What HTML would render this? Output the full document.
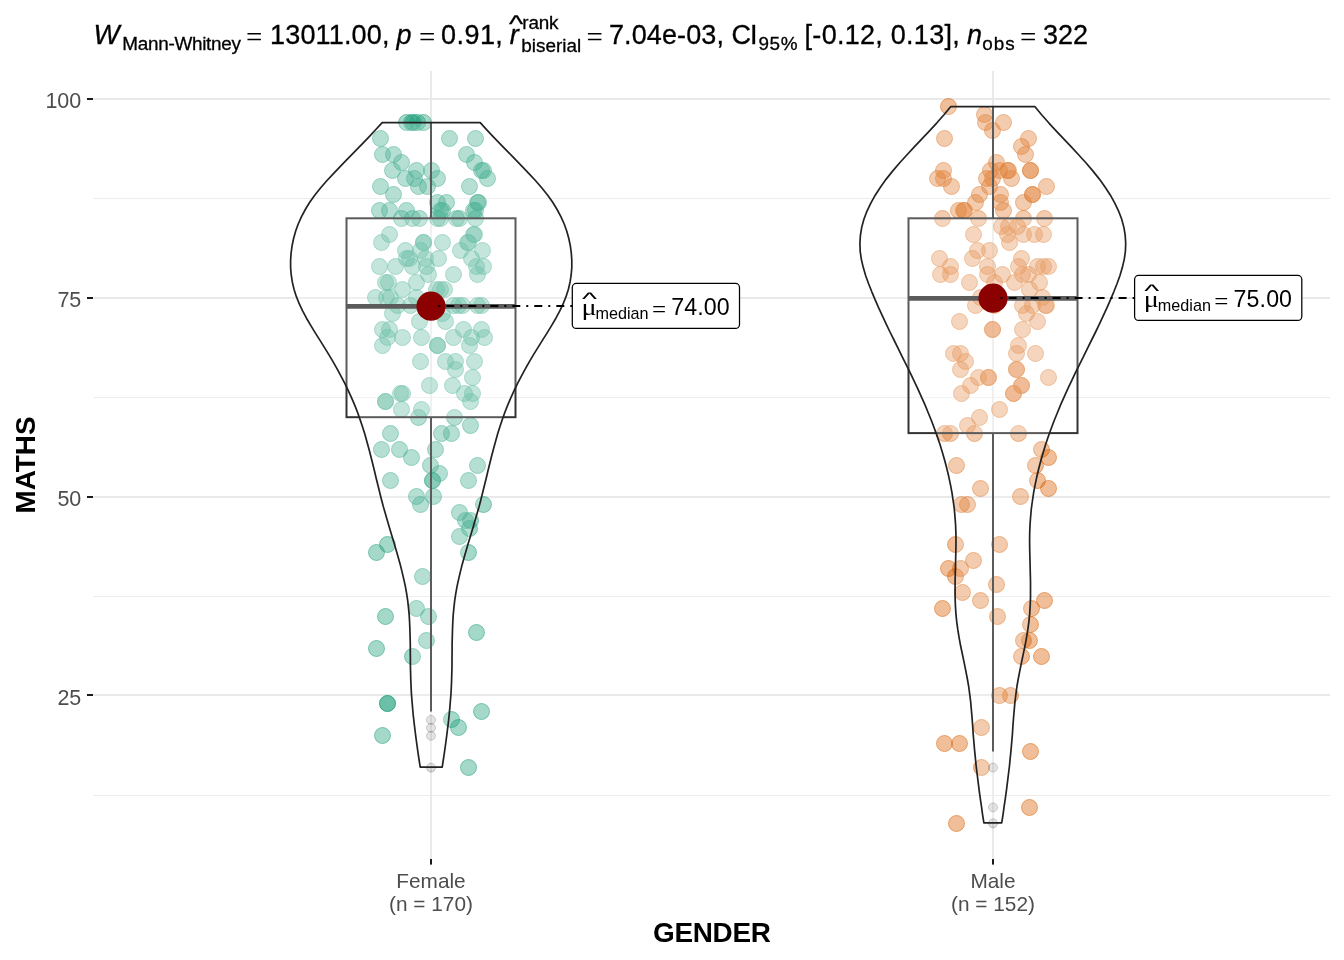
<!DOCTYPE html>
<html lang="en"><head><meta charset="utf-8"><title>MATHS by GENDER</title>
<style>html,body{margin:0;padding:0;background:#fff}body{width:1344px;height:960px;overflow:hidden}svg{display:block}text{font-family:"Liberation Sans",sans-serif}.ser{font-family:"Liberation Serif",serif}</style></head><body>
<svg width="1344" height="960" viewBox="0 0 1344 960">
<rect width="1344" height="960" fill="#fff"/>
<g fill="#e9e9e9">
<rect x="93.5" y="198" width="1236.5" height="1" fill="#ececec"/>
<rect x="93.5" y="397" width="1236.5" height="1" fill="#ececec"/>
<rect x="93.5" y="596" width="1236.5" height="1" fill="#ececec"/>
<rect x="93.5" y="795" width="1236.5" height="1" fill="#ececec"/>
<rect x="93.5" y="98" width="1236.5" height="2"/>
<rect x="93.5" y="297" width="1236.5" height="2"/>
<rect x="93.5" y="496" width="1236.5" height="2"/>
<rect x="93.5" y="694" width="1236.5" height="2"/>
<rect x="430.0" y="71" width="2" height="788"/>
<rect x="992.0" y="71" width="2" height="788"/>
</g>
<g fill="#1b9e77" fill-opacity="0.4" stroke="#1b9e77" stroke-opacity="0.5" stroke-width="1">
<circle cx="406.5" cy="122.5" r="8"/>
<circle cx="411.5" cy="122.5" r="8"/>
<circle cx="413.5" cy="122.5" r="8"/>
<circle cx="417.5" cy="122.5" r="8"/>
<circle cx="423.5" cy="122.5" r="8"/>
<circle cx="380.5" cy="138.5" r="8"/>
<circle cx="449.5" cy="138.5" r="8"/>
<circle cx="475.5" cy="138.5" r="8"/>
<circle cx="382.5" cy="154.5" r="8"/>
<circle cx="393.5" cy="154.5" r="8"/>
<circle cx="466.5" cy="154.5" r="8"/>
<circle cx="401.5" cy="162.5" r="8"/>
<circle cx="474.5" cy="162.5" r="8"/>
<circle cx="392.5" cy="170.5" r="8"/>
<circle cx="416.5" cy="170.5" r="8"/>
<circle cx="431.5" cy="170.5" r="8"/>
<circle cx="481.5" cy="170.5" r="8"/>
<circle cx="483.5" cy="170.5" r="8"/>
<circle cx="405.5" cy="178.5" r="8"/>
<circle cx="414.5" cy="178.5" r="8"/>
<circle cx="437.5" cy="178.5" r="8"/>
<circle cx="487.5" cy="178.5" r="8"/>
<circle cx="380.5" cy="186.5" r="8"/>
<circle cx="418.5" cy="186.5" r="8"/>
<circle cx="427.5" cy="186.5" r="8"/>
<circle cx="469.5" cy="186.5" r="8"/>
<circle cx="393.5" cy="194.5" r="8"/>
<circle cx="437.5" cy="202.5" r="8"/>
<circle cx="446.5" cy="202.5" r="8"/>
<circle cx="477.5" cy="202.5" r="8"/>
<circle cx="478.5" cy="202.5" r="8"/>
<circle cx="379.5" cy="210.5" r="8"/>
<circle cx="389.5" cy="210.5" r="8"/>
<circle cx="406.5" cy="210.5" r="8"/>
<circle cx="440.5" cy="210.5" r="8"/>
<circle cx="442.5" cy="210.5" r="8"/>
<circle cx="473.5" cy="210.5" r="8"/>
<circle cx="475.5" cy="210.5" r="8"/>
<circle cx="401.5" cy="218.5" r="8"/>
<circle cx="412.5" cy="218.5" r="8"/>
<circle cx="419.5" cy="218.5" r="8"/>
<circle cx="437.5" cy="218.5" r="8"/>
<circle cx="440.5" cy="218.5" r="8"/>
<circle cx="456.5" cy="218.5" r="8"/>
<circle cx="459.5" cy="218.5" r="8"/>
<circle cx="475.5" cy="218.5" r="8"/>
<circle cx="389.5" cy="234.5" r="8"/>
<circle cx="473.5" cy="234.5" r="8"/>
<circle cx="474.5" cy="234.5" r="8"/>
<circle cx="381.5" cy="242.5" r="8"/>
<circle cx="423.5" cy="242.5" r="8"/>
<circle cx="423.5" cy="242.5" r="8"/>
<circle cx="442.5" cy="242.5" r="8"/>
<circle cx="467.5" cy="242.5" r="8"/>
<circle cx="468.5" cy="242.5" r="8"/>
<circle cx="405.5" cy="250.5" r="8"/>
<circle cx="420.5" cy="250.5" r="8"/>
<circle cx="460.5" cy="250.5" r="8"/>
<circle cx="482.5" cy="250.5" r="8"/>
<circle cx="406.5" cy="258.5" r="8"/>
<circle cx="409.5" cy="258.5" r="8"/>
<circle cx="425.5" cy="258.5" r="8"/>
<circle cx="438.5" cy="258.5" r="8"/>
<circle cx="471.5" cy="258.5" r="8"/>
<circle cx="379.5" cy="266.5" r="8"/>
<circle cx="395.5" cy="266.5" r="8"/>
<circle cx="412.5" cy="266.5" r="8"/>
<circle cx="426.5" cy="266.5" r="8"/>
<circle cx="476.5" cy="266.5" r="8"/>
<circle cx="483.5" cy="266.5" r="8"/>
<circle cx="428.5" cy="274.5" r="8"/>
<circle cx="453.5" cy="274.5" r="8"/>
<circle cx="477.5" cy="274.5" r="8"/>
<circle cx="385.5" cy="282.5" r="8"/>
<circle cx="388.5" cy="282.5" r="8"/>
<circle cx="416.5" cy="282.5" r="8"/>
<circle cx="402.5" cy="289.5" r="8"/>
<circle cx="436.5" cy="289.5" r="8"/>
<circle cx="440.5" cy="289.5" r="8"/>
<circle cx="444.5" cy="289.5" r="8"/>
<circle cx="375.5" cy="297.5" r="8"/>
<circle cx="386.5" cy="297.5" r="8"/>
<circle cx="390.5" cy="297.5" r="8"/>
<circle cx="416.5" cy="297.5" r="8"/>
<circle cx="397.5" cy="305.5" r="8"/>
<circle cx="410.5" cy="305.5" r="8"/>
<circle cx="453.5" cy="305.5" r="8"/>
<circle cx="458.5" cy="305.5" r="8"/>
<circle cx="462.5" cy="305.5" r="8"/>
<circle cx="477.5" cy="305.5" r="8"/>
<circle cx="481.5" cy="305.5" r="8"/>
<circle cx="392.5" cy="313.5" r="8"/>
<circle cx="442.5" cy="313.5" r="8"/>
<circle cx="419.5" cy="321.5" r="8"/>
<circle cx="445.5" cy="321.5" r="8"/>
<circle cx="382.5" cy="329.5" r="8"/>
<circle cx="389.5" cy="329.5" r="8"/>
<circle cx="463.5" cy="329.5" r="8"/>
<circle cx="481.5" cy="329.5" r="8"/>
<circle cx="387.5" cy="337.5" r="8"/>
<circle cx="402.5" cy="337.5" r="8"/>
<circle cx="421.5" cy="337.5" r="8"/>
<circle cx="453.5" cy="337.5" r="8"/>
<circle cx="471.5" cy="337.5" r="8"/>
<circle cx="484.5" cy="337.5" r="8"/>
<circle cx="382.5" cy="345.5" r="8"/>
<circle cx="437.5" cy="345.5" r="8"/>
<circle cx="437.5" cy="345.5" r="8"/>
<circle cx="469.5" cy="345.5" r="8"/>
<circle cx="420.5" cy="361.5" r="8"/>
<circle cx="445.5" cy="361.5" r="8"/>
<circle cx="455.5" cy="361.5" r="8"/>
<circle cx="474.5" cy="361.5" r="8"/>
<circle cx="455.5" cy="369.5" r="8"/>
<circle cx="472.5" cy="377.5" r="8"/>
<circle cx="429.5" cy="385.5" r="8"/>
<circle cx="452.5" cy="385.5" r="8"/>
<circle cx="400.5" cy="393.5" r="8"/>
<circle cx="402.5" cy="393.5" r="8"/>
<circle cx="464.5" cy="393.5" r="8"/>
<circle cx="472.5" cy="393.5" r="8"/>
<circle cx="385.5" cy="401.5" r="8"/>
<circle cx="385.5" cy="401.5" r="8"/>
<circle cx="470.5" cy="401.5" r="8"/>
<circle cx="401.5" cy="409.5" r="8"/>
<circle cx="421.5" cy="409.5" r="8"/>
<circle cx="418.5" cy="417.5" r="8"/>
<circle cx="454.5" cy="417.5" r="8"/>
<circle cx="470.5" cy="425.5" r="8"/>
<circle cx="390.5" cy="433.5" r="8"/>
<circle cx="441.5" cy="433.5" r="8"/>
<circle cx="451.5" cy="433.5" r="8"/>
<circle cx="381.5" cy="449.5" r="8"/>
<circle cx="399.5" cy="449.5" r="8"/>
<circle cx="435.5" cy="449.5" r="8"/>
<circle cx="411.5" cy="457.5" r="8"/>
<circle cx="430.5" cy="465.5" r="8"/>
<circle cx="477.5" cy="465.5" r="8"/>
<circle cx="439.5" cy="473.5" r="8"/>
<circle cx="390.5" cy="480.5" r="8"/>
<circle cx="432.5" cy="480.5" r="8"/>
<circle cx="432.5" cy="480.5" r="8"/>
<circle cx="468.5" cy="480.5" r="8"/>
<circle cx="416.5" cy="496.5" r="8"/>
<circle cx="433.5" cy="496.5" r="8"/>
<circle cx="420.5" cy="504.5" r="8"/>
<circle cx="483.5" cy="504.5" r="8"/>
<circle cx="459.5" cy="512.5" r="8"/>
<circle cx="465.5" cy="520.5" r="8"/>
<circle cx="470.5" cy="520.5" r="8"/>
<circle cx="469.5" cy="528.5" r="8"/>
<circle cx="459.5" cy="536.5" r="8"/>
<circle cx="387.5" cy="544.5" r="8"/>
<circle cx="376.5" cy="552.5" r="8"/>
<circle cx="468.5" cy="552.5" r="8"/>
<circle cx="422.5" cy="576.5" r="8"/>
<circle cx="416.5" cy="608.5" r="8"/>
<circle cx="385.5" cy="616.5" r="8"/>
<circle cx="428.5" cy="616.5" r="8"/>
<circle cx="476.5" cy="632.5" r="8"/>
<circle cx="426.5" cy="640.5" r="8"/>
<circle cx="376.5" cy="648.5" r="8"/>
<circle cx="412.5" cy="656.5" r="8"/>
<circle cx="387.5" cy="703.5" r="8"/>
<circle cx="387.5" cy="703.5" r="8"/>
<circle cx="481.5" cy="711.5" r="8"/>
<circle cx="451.5" cy="719.5" r="8"/>
<circle cx="458.5" cy="727.5" r="8"/>
<circle cx="382.5" cy="735.5" r="8"/>
<circle cx="468.5" cy="767.5" r="8"/>
</g>
<g fill="#d95f02" fill-opacity="0.4" stroke="#d95f02" stroke-opacity="0.5" stroke-width="1">
<circle cx="948.5" cy="106.5" r="8"/>
<circle cx="984.5" cy="114.5" r="8"/>
<circle cx="985.5" cy="122.5" r="8"/>
<circle cx="1003.5" cy="122.5" r="8"/>
<circle cx="992.5" cy="130.5" r="8"/>
<circle cx="944.5" cy="138.5" r="8"/>
<circle cx="1028.5" cy="138.5" r="8"/>
<circle cx="1021.5" cy="146.5" r="8"/>
<circle cx="1025.5" cy="154.5" r="8"/>
<circle cx="996.5" cy="162.5" r="8"/>
<circle cx="943.5" cy="170.5" r="8"/>
<circle cx="990.5" cy="170.5" r="8"/>
<circle cx="999.5" cy="170.5" r="8"/>
<circle cx="1007.5" cy="170.5" r="8"/>
<circle cx="1008.5" cy="170.5" r="8"/>
<circle cx="1030.5" cy="170.5" r="8"/>
<circle cx="1030.5" cy="170.5" r="8"/>
<circle cx="937.5" cy="178.5" r="8"/>
<circle cx="943.5" cy="178.5" r="8"/>
<circle cx="986.5" cy="178.5" r="8"/>
<circle cx="992.5" cy="178.5" r="8"/>
<circle cx="1011.5" cy="178.5" r="8"/>
<circle cx="951.5" cy="186.5" r="8"/>
<circle cx="989.5" cy="186.5" r="8"/>
<circle cx="1046.5" cy="186.5" r="8"/>
<circle cx="979.5" cy="194.5" r="8"/>
<circle cx="1000.5" cy="194.5" r="8"/>
<circle cx="1032.5" cy="194.5" r="8"/>
<circle cx="1032.5" cy="194.5" r="8"/>
<circle cx="975.5" cy="202.5" r="8"/>
<circle cx="1000.5" cy="202.5" r="8"/>
<circle cx="1023.5" cy="202.5" r="8"/>
<circle cx="958.5" cy="210.5" r="8"/>
<circle cx="963.5" cy="210.5" r="8"/>
<circle cx="964.5" cy="210.5" r="8"/>
<circle cx="1003.5" cy="210.5" r="8"/>
<circle cx="942.5" cy="218.5" r="8"/>
<circle cx="978.5" cy="218.5" r="8"/>
<circle cx="1023.5" cy="218.5" r="8"/>
<circle cx="1044.5" cy="218.5" r="8"/>
<circle cx="1001.5" cy="226.5" r="8"/>
<circle cx="1008.5" cy="226.5" r="8"/>
<circle cx="1017.5" cy="226.5" r="8"/>
<circle cx="973.5" cy="234.5" r="8"/>
<circle cx="1007.5" cy="234.5" r="8"/>
<circle cx="1023.5" cy="234.5" r="8"/>
<circle cx="1034.5" cy="234.5" r="8"/>
<circle cx="1043.5" cy="234.5" r="8"/>
<circle cx="1009.5" cy="242.5" r="8"/>
<circle cx="977.5" cy="250.5" r="8"/>
<circle cx="989.5" cy="250.5" r="8"/>
<circle cx="939.5" cy="258.5" r="8"/>
<circle cx="972.5" cy="258.5" r="8"/>
<circle cx="1021.5" cy="258.5" r="8"/>
<circle cx="950.5" cy="266.5" r="8"/>
<circle cx="987.5" cy="266.5" r="8"/>
<circle cx="1018.5" cy="266.5" r="8"/>
<circle cx="1037.5" cy="266.5" r="8"/>
<circle cx="1043.5" cy="266.5" r="8"/>
<circle cx="1048.5" cy="266.5" r="8"/>
<circle cx="940.5" cy="274.5" r="8"/>
<circle cx="950.5" cy="274.5" r="8"/>
<circle cx="987.5" cy="274.5" r="8"/>
<circle cx="1002.5" cy="274.5" r="8"/>
<circle cx="1022.5" cy="274.5" r="8"/>
<circle cx="1028.5" cy="274.5" r="8"/>
<circle cx="969.5" cy="282.5" r="8"/>
<circle cx="994.5" cy="282.5" r="8"/>
<circle cx="1014.5" cy="282.5" r="8"/>
<circle cx="1039.5" cy="282.5" r="8"/>
<circle cx="1029.5" cy="289.5" r="8"/>
<circle cx="980.5" cy="297.5" r="8"/>
<circle cx="1042.5" cy="297.5" r="8"/>
<circle cx="975.5" cy="305.5" r="8"/>
<circle cx="994.5" cy="305.5" r="8"/>
<circle cx="1022.5" cy="305.5" r="8"/>
<circle cx="1032.5" cy="305.5" r="8"/>
<circle cx="1045.5" cy="305.5" r="8"/>
<circle cx="1046.5" cy="305.5" r="8"/>
<circle cx="1026.5" cy="313.5" r="8"/>
<circle cx="959.5" cy="321.5" r="8"/>
<circle cx="1037.5" cy="321.5" r="8"/>
<circle cx="992.5" cy="329.5" r="8"/>
<circle cx="992.5" cy="329.5" r="8"/>
<circle cx="1022.5" cy="329.5" r="8"/>
<circle cx="1018.5" cy="345.5" r="8"/>
<circle cx="953.5" cy="353.5" r="8"/>
<circle cx="960.5" cy="353.5" r="8"/>
<circle cx="1016.5" cy="353.5" r="8"/>
<circle cx="1035.5" cy="353.5" r="8"/>
<circle cx="965.5" cy="361.5" r="8"/>
<circle cx="960.5" cy="369.5" r="8"/>
<circle cx="1016.5" cy="369.5" r="8"/>
<circle cx="1016.5" cy="369.5" r="8"/>
<circle cx="978.5" cy="377.5" r="8"/>
<circle cx="988.5" cy="377.5" r="8"/>
<circle cx="988.5" cy="377.5" r="8"/>
<circle cx="1048.5" cy="377.5" r="8"/>
<circle cx="970.5" cy="385.5" r="8"/>
<circle cx="1021.5" cy="385.5" r="8"/>
<circle cx="1021.5" cy="385.5" r="8"/>
<circle cx="961.5" cy="393.5" r="8"/>
<circle cx="1013.5" cy="393.5" r="8"/>
<circle cx="1013.5" cy="393.5" r="8"/>
<circle cx="999.5" cy="409.5" r="8"/>
<circle cx="979.5" cy="417.5" r="8"/>
<circle cx="967.5" cy="425.5" r="8"/>
<circle cx="944.5" cy="433.5" r="8"/>
<circle cx="950.5" cy="433.5" r="8"/>
<circle cx="974.5" cy="433.5" r="8"/>
<circle cx="1018.5" cy="433.5" r="8"/>
<circle cx="1041.5" cy="449.5" r="8"/>
<circle cx="1048.5" cy="457.5" r="8"/>
<circle cx="956.5" cy="465.5" r="8"/>
<circle cx="1035.5" cy="465.5" r="8"/>
<circle cx="1037.5" cy="480.5" r="8"/>
<circle cx="980.5" cy="488.5" r="8"/>
<circle cx="1048.5" cy="488.5" r="8"/>
<circle cx="1020.5" cy="496.5" r="8"/>
<circle cx="961.5" cy="504.5" r="8"/>
<circle cx="967.5" cy="504.5" r="8"/>
<circle cx="955.5" cy="544.5" r="8"/>
<circle cx="999.5" cy="544.5" r="8"/>
<circle cx="973.5" cy="560.5" r="8"/>
<circle cx="948.5" cy="568.5" r="8"/>
<circle cx="960.5" cy="568.5" r="8"/>
<circle cx="955.5" cy="576.5" r="8"/>
<circle cx="996.5" cy="584.5" r="8"/>
<circle cx="962.5" cy="592.5" r="8"/>
<circle cx="980.5" cy="600.5" r="8"/>
<circle cx="1044.5" cy="600.5" r="8"/>
<circle cx="942.5" cy="608.5" r="8"/>
<circle cx="1031.5" cy="608.5" r="8"/>
<circle cx="997.5" cy="616.5" r="8"/>
<circle cx="1030.5" cy="624.5" r="8"/>
<circle cx="1023.5" cy="640.5" r="8"/>
<circle cx="1029.5" cy="640.5" r="8"/>
<circle cx="1021.5" cy="656.5" r="8"/>
<circle cx="1041.5" cy="656.5" r="8"/>
<circle cx="999.5" cy="695.5" r="8"/>
<circle cx="1010.5" cy="695.5" r="8"/>
<circle cx="981.5" cy="727.5" r="8"/>
<circle cx="944.5" cy="743.5" r="8"/>
<circle cx="959.5" cy="743.5" r="8"/>
<circle cx="1030.5" cy="751.5" r="8"/>
<circle cx="981.5" cy="767.5" r="8"/>
<circle cx="1029.5" cy="807.5" r="8"/>
<circle cx="956.5" cy="823.5" r="8"/>
</g>
<g stroke="#333" stroke-width="2" fill="none">
<line x1="431.0" x2="431.0" y1="122.9" y2="218.3"/>
<line x1="431.0" x2="431.0" y1="417.2" y2="711.6"/>
<rect x="346.5" y="218.3" width="169.0" height="198.9" fill="#fff" fill-opacity="0.2"/>
<line x1="346.5" x2="515.5" y1="306.4" y2="306.4" stroke-width="4.7" stroke="#333"/>
</g>
<g fill="#000" fill-opacity="0.13" stroke="#000" stroke-opacity="0.2" stroke-width="1">
<circle cx="431.0" cy="719.9" r="4.5"/>
<circle cx="431.0" cy="727.8" r="4.5"/>
<circle cx="431.0" cy="735.8" r="4.5"/>
<circle cx="431.0" cy="767.6" r="4.5"/>
</g>
<g stroke="#333" stroke-width="2" fill="none">
<line x1="993.0" x2="993.0" y1="107.0" y2="218.3"/>
<line x1="993.0" x2="993.0" y1="433.2" y2="751.4"/>
<rect x="908.5" y="218.3" width="169.0" height="214.8" fill="#fff" fill-opacity="0.2"/>
<line x1="908.5" x2="1077.5" y1="298.4" y2="298.4" stroke-width="4.7" stroke="#333"/>
</g>
<g fill="#000" fill-opacity="0.13" stroke="#000" stroke-opacity="0.2" stroke-width="1">
<circle cx="993.0" cy="767.6" r="4.5"/>
<circle cx="993.0" cy="807.4" r="4.5"/>
<circle cx="993.0" cy="823.3" r="4.5"/>
</g>
<g stroke="#222" stroke-width="1.7" fill="#fff" fill-opacity="0.2" stroke-linejoin="round">
<path d="M382.2,122.6 L375.6,129.8 L368.8,137.1 L361.8,144.3 L354.7,151.6 L347.6,158.8 L340.6,166.1 L333.7,173.3 L327.0,180.5 L320.7,187.8 L314.9,195.0 L309.7,202.3 L305.3,209.5 L301.4,216.8 L298.2,224.0 L295.6,231.2 L293.6,238.5 L292.1,245.7 L291.1,253.0 L290.6,260.2 L290.6,267.5 L291.2,274.7 L292.3,281.9 L294.0,289.2 L296.3,296.4 L299.2,303.7 L302.6,310.9 L306.5,318.2 L310.7,325.4 L315.1,332.6 L319.7,339.9 L324.2,347.1 L328.7,354.4 L333.0,361.6 L337.1,368.9 L341.0,376.1 L344.8,383.3 L348.3,390.6 L351.6,397.8 L354.7,405.1 L357.5,412.3 L360.1,419.6 L362.5,426.8 L364.8,434.0 L366.8,441.3 L368.8,448.5 L370.7,455.8 L372.5,463.0 L374.3,470.2 L376.0,477.5 L377.8,484.7 L379.6,492.0 L381.4,499.2 L383.3,506.5 L385.4,513.7 L387.5,520.9 L389.6,528.2 L391.8,535.4 L394.0,542.7 L396.1,549.9 L398.2,557.2 L400.2,564.4 L402.0,571.6 L403.7,578.9 L405.3,586.1 L406.6,593.4 L407.7,600.6 L408.5,607.9 L409.2,615.1 L409.6,622.3 L409.9,629.6 L410.1,636.8 L410.3,644.1 L410.3,651.3 L410.4,658.6 L410.4,665.8 L410.6,673.0 L410.8,680.3 L411.1,687.5 L411.5,694.8 L412.1,702.0 L412.7,709.3 L413.4,716.5 L414.2,723.7 L415.1,731.0 L416.0,738.2 L417.0,745.5 L418.0,752.7 L419.1,760.0 L420.2,767.2 L442.2,767.2 L443.3,760.0 L444.4,752.7 L445.4,745.5 L446.4,738.2 L447.3,731.0 L448.2,723.7 L449.0,716.5 L449.7,709.3 L450.3,702.0 L450.9,694.8 L451.3,687.5 L451.6,680.3 L451.8,673.0 L452.0,665.8 L452.0,658.6 L452.1,651.3 L452.1,644.1 L452.3,636.8 L452.5,629.6 L452.8,622.3 L453.2,615.1 L453.9,607.9 L454.7,600.6 L455.8,593.4 L457.1,586.1 L458.7,578.9 L460.4,571.6 L462.2,564.4 L464.2,557.2 L466.3,549.9 L468.4,542.7 L470.6,535.4 L472.8,528.2 L474.9,520.9 L477.0,513.7 L479.1,506.5 L481.0,499.2 L482.8,492.0 L484.6,484.7 L486.4,477.5 L488.1,470.2 L489.9,463.0 L491.7,455.8 L493.6,448.5 L495.6,441.3 L497.6,434.0 L499.9,426.8 L502.3,419.6 L504.9,412.3 L507.7,405.1 L510.8,397.8 L514.1,390.6 L517.6,383.3 L521.4,376.1 L525.3,368.9 L529.4,361.6 L533.7,354.4 L538.2,347.1 L542.7,339.9 L547.3,332.6 L551.7,325.4 L555.9,318.2 L559.8,310.9 L563.2,303.7 L566.1,296.4 L568.4,289.2 L570.1,281.9 L571.2,274.7 L571.8,267.5 L571.8,260.2 L571.3,253.0 L570.3,245.7 L568.8,238.5 L566.8,231.2 L564.2,224.0 L561.0,216.8 L557.1,209.5 L552.7,202.3 L547.5,195.0 L541.7,187.8 L535.4,180.5 L528.7,173.3 L521.8,166.1 L514.8,158.8 L507.7,151.6 L500.6,144.3 L493.6,137.1 L486.8,129.8 L480.2,122.6Z"/>
<path d="M950.6,106.7 L944.0,114.7 L936.9,122.8 L929.5,130.8 L921.9,138.9 L914.3,146.9 L906.8,155.0 L899.5,163.0 L892.6,171.1 L886.2,179.1 L880.4,187.2 L875.2,195.2 L870.7,203.3 L866.9,211.3 L863.9,219.3 L861.7,227.4 L860.4,235.4 L859.9,243.5 L860.2,251.5 L861.4,259.6 L863.3,267.6 L865.7,275.7 L868.6,283.7 L871.8,291.8 L875.2,299.8 L878.7,307.9 L882.4,315.9 L886.1,323.9 L890.0,332.0 L894.0,340.0 L898.0,348.1 L901.9,356.1 L905.9,364.2 L909.9,372.2 L913.8,380.3 L917.6,388.3 L921.2,396.4 L924.8,404.4 L928.1,412.5 L931.4,420.5 L934.4,428.5 L937.3,436.6 L940.0,444.6 L942.5,452.7 L944.8,460.7 L946.9,468.8 L948.8,476.8 L950.5,484.9 L952.0,492.9 L953.2,501.0 L954.3,509.0 L955.0,517.0 L955.6,525.1 L955.9,533.1 L956.0,541.2 L955.9,549.2 L955.7,557.3 L955.5,565.3 L955.3,573.4 L955.1,581.4 L955.1,589.5 L955.1,597.5 L955.4,605.6 L955.9,613.6 L956.7,621.6 L957.8,629.7 L959.1,637.7 L960.6,645.8 L962.3,653.8 L964.0,661.9 L965.6,669.9 L967.2,678.0 L968.6,686.0 L969.7,694.1 L970.7,702.1 L971.4,710.2 L972.1,718.2 L972.7,726.2 L973.2,734.3 L973.9,742.3 L974.6,750.4 L975.4,758.4 L976.2,766.5 L977.2,774.5 L978.2,782.6 L979.2,790.6 L980.3,798.7 L981.5,806.7 L982.6,814.8 L983.9,822.8 L1001.7,822.8 L1003.0,814.8 L1004.1,806.7 L1005.3,798.7 L1006.4,790.6 L1007.4,782.6 L1008.4,774.5 L1009.4,766.5 L1010.2,758.4 L1011.0,750.4 L1011.7,742.3 L1012.4,734.3 L1012.9,726.2 L1013.5,718.2 L1014.2,710.2 L1014.9,702.1 L1015.9,694.1 L1017.0,686.0 L1018.4,678.0 L1020.0,669.9 L1021.6,661.9 L1023.3,653.8 L1025.0,645.8 L1026.5,637.7 L1027.8,629.7 L1028.9,621.6 L1029.7,613.6 L1030.2,605.6 L1030.5,597.5 L1030.5,589.5 L1030.5,581.4 L1030.3,573.4 L1030.1,565.3 L1029.9,557.3 L1029.7,549.2 L1029.6,541.2 L1029.7,533.1 L1030.0,525.1 L1030.6,517.0 L1031.3,509.0 L1032.4,501.0 L1033.6,492.9 L1035.1,484.9 L1036.8,476.8 L1038.7,468.8 L1040.8,460.7 L1043.1,452.7 L1045.6,444.6 L1048.3,436.6 L1051.2,428.5 L1054.2,420.5 L1057.5,412.5 L1060.8,404.4 L1064.4,396.4 L1068.0,388.3 L1071.8,380.3 L1075.7,372.2 L1079.7,364.2 L1083.7,356.1 L1087.6,348.1 L1091.6,340.0 L1095.6,332.0 L1099.5,323.9 L1103.2,315.9 L1106.9,307.9 L1110.4,299.8 L1113.8,291.8 L1117.0,283.7 L1119.9,275.7 L1122.3,267.6 L1124.2,259.6 L1125.4,251.5 L1125.7,243.5 L1125.2,235.4 L1123.9,227.4 L1121.7,219.3 L1118.7,211.3 L1114.9,203.3 L1110.4,195.2 L1105.2,187.2 L1099.4,179.1 L1093.0,171.1 L1086.1,163.0 L1078.8,155.0 L1071.3,146.9 L1063.7,138.9 L1056.1,130.8 L1048.7,122.8 L1041.6,114.7 L1035.0,106.7Z"/>
</g>
<circle cx="431.0" cy="306.2" r="14.6" fill="#8b0000"/>
<circle cx="993.0" cy="298.2" r="14.6" fill="#8b0000"/>
<line x1="572.3" x2="437.0" y1="305.9" y2="305.9" stroke="#000" stroke-width="2" stroke-dasharray="2 6 8 6"/>
<rect x="572.3" y="283.4" width="167.2" height="45.0" rx="4" fill="#fff" stroke="#000" stroke-width="1.25"/>
<text class="ser" x="581.9" y="314.9" font-size="23.5" transform="translate(583.9 0) scale(1.2 1) translate(-583.9 0)">μ</text>
<text x="581.9" y="309.0" font-size="23.2" transform="translate(581.9 292.0) scale(1.38 0.78) translate(-581.9 -292.0)">^</text>
<text x="595.5" y="319.2" font-size="16.2">median</text>
<text class="ser" x="651.9" y="317.5" font-size="25">=</text>
<text x="671.3" y="314.9" font-size="23.2" letter-spacing="0.1">74.00</text>
<line x1="1134.6" x2="999.0" y1="297.9" y2="297.9" stroke="#000" stroke-width="2" stroke-dasharray="2 6 8 6"/>
<rect x="1134.6" y="275.4" width="167.2" height="45.0" rx="4" fill="#fff" stroke="#000" stroke-width="1.25"/>
<text class="ser" x="1144.2" y="306.9" font-size="23.5" transform="translate(1146.2 0) scale(1.2 1) translate(-1146.2 0)">μ</text>
<text x="1144.2" y="301.0" font-size="23.2" transform="translate(1144.2 284.0) scale(1.38 0.78) translate(-1144.2 -284.0)">^</text>
<text x="1157.8" y="311.2" font-size="16.2">median</text>
<text class="ser" x="1214.2" y="309.5" font-size="25">=</text>
<text x="1233.6" y="306.9" font-size="23.2" letter-spacing="0.1">75.00</text>
<g fill="#1a1a1a">
<rect x="87" y="98" width="6" height="2"/>
<rect x="87" y="297" width="6" height="2"/>
<rect x="87" y="496" width="6" height="2"/>
<rect x="87" y="694" width="6" height="2"/>
<rect x="430.0" y="859" width="2" height="5.6"/>
<rect x="992.0" y="859" width="2" height="5.6"/>
</g>
<g fill="#4d4d4d" font-size="20.8">
<text x="81.1" y="107.8" text-anchor="end" font-size="21.5" letter-spacing="-0.1">100</text>
<text x="81.1" y="306.7" text-anchor="end" font-size="21.5" letter-spacing="-0.1">75</text>
<text x="81.1" y="505.6" text-anchor="end" font-size="21.5" letter-spacing="-0.1">50</text>
<text x="81.1" y="704.5" text-anchor="end" font-size="21.5" letter-spacing="-0.1">25</text>
<text x="431.0" y="887.6" text-anchor="middle">Female</text><text x="431.0" y="910.5" text-anchor="middle">(n = 170)</text>
<text x="993.0" y="887.6" text-anchor="middle">Male</text><text x="993.0" y="910.5" text-anchor="middle">(n = 152)</text>
</g>
<text x="711.8" y="942" text-anchor="middle" font-size="27.9" letter-spacing="-0.3" font-weight="bold" fill="#000">GENDER</text>
<text transform="translate(35.2 465) rotate(-90)" text-anchor="middle" font-size="27.9" font-weight="bold" fill="#000">MATHS</text>
<g fill="#000" stroke="#000" stroke-width="0.3">
<text x="93.4" y="43.8" font-size="27.6" font-style="italic">W</text>
<text x="122.3" y="49.8" font-size="18.9" letter-spacing="-0.29">Mann-Whitney</text>
<text class="ser" stroke="none" x="246.1" y="47.3" font-size="29">=</text>
<text x="270.1" y="43.8" font-size="27" letter-spacing="0.15">13011.00,</text>
<text x="396.5" y="43.8" font-size="27" font-style="italic">p</text>
<text class="ser" stroke="none" x="419.1" y="47.3" font-size="29">=</text>
<text x="441.0" y="43.8" font-size="27" letter-spacing="0.45">0.91,</text>
<text x="509.8" y="43.8" font-size="27" font-style="italic">r</text>
<text x="508.9" y="34.2" font-size="27" transform="translate(508.9 15.2) scale(1.12 0.9) translate(-508.9 -15.2)">^</text>
<text x="522.3" y="28.5" font-size="18.9" letter-spacing="-0.17">rank</text>
<text x="521.3" y="52.1" font-size="18.9">biserial</text>
<text class="ser" stroke="none" x="586.4" y="47.3" font-size="29">=</text>
<text x="608.9" y="43.8" font-size="27" letter-spacing="0.12">7.04e-03,</text>
<text x="731.4" y="43.8" font-size="27" letter-spacing="-0.9">CI</text>
<text x="758.5" y="49.8" font-size="18.9" letter-spacing="0.6">95%</text>
<text x="804.6" y="43.8" font-size="27" letter-spacing="0.27">[-0.12, 0.13],</text>
<text x="967.0" y="43.8" font-size="27" font-style="italic">n</text>
<text x="982.3" y="49.8" font-size="18.9" letter-spacing="1.0">obs</text>
<text class="ser" stroke="none" x="1020.1" y="47.3" font-size="29">=</text>
<text x="1043" y="43.8" font-size="27">322</text>
</g>
</svg></body></html>
